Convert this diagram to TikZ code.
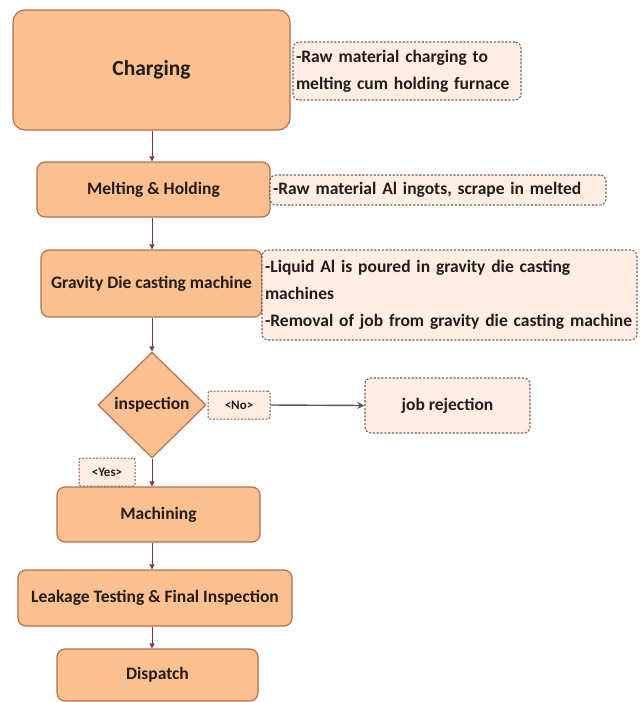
\documentclass[tikz,border=0pt]{standalone}
\usepackage{fontspec}
\setmainfont{Carlito}
\usetikzlibrary{shapes.geometric,arrows.meta}
\definecolor{boxfill}{HTML}{FAC090}
\definecolor{boxdraw}{HTML}{B0714F}
\definecolor{notefill}{HTML}{FDEDE2}
\definecolor{notedraw}{HTML}{75625C}
\definecolor{arrcol}{HTML}{7A3B4E}
\definecolor{txt}{HTML}{241C1C}
\tikzset{
  proc/.style={draw=boxdraw, fill=boxfill, line width=1.2pt, rounded corners=8pt,
    inner sep=2pt, text=txt, font=\bfseries\fontsize{17.5}{20}\selectfont, align=center},
  note/.style={draw=notedraw, fill=notefill, line width=1.1pt, dash pattern=on 2.2pt off 1.6pt,
    rounded corners=6pt, inner sep=3pt, text=txt, font=\bfseries\fontsize{17.5}{27}\selectfont, align=left},
  tag/.style={draw=notedraw, fill=notefill, line width=1pt, dash pattern=on 2pt off 1.5pt,
    rounded corners=2pt, inner sep=1pt, text=txt, font=\bfseries\fontsize{13}{15}\selectfont},
  arr/.style={draw=arrcol, line width=0.8pt, -{Triangle[length=5pt,width=5pt]}},
  garr/.style={draw=black!65, line width=1.4pt, -{Stealth[length=7pt,width=7pt]}},
}
\begin{document}
\begin{tikzpicture}[x=1pt,y=-1pt]
\useasboundingbox (0,0) rectangle (643,702);
\node[proc, rounded corners=12pt, minimum width=277pt, minimum height=120pt,
  font=\bfseries\fontsize{21.5}{26}\selectfont] (charging) at (151.5,70) {Charging};
\node[note, minimum width=228pt, minimum height=58pt, text width=222pt] (note1) at (407,71)
  {-Raw material charging to\\melting cum holding furnace};
\node[proc, minimum width=233pt, minimum height=55pt] (melting) at (153.5,189.5) {Melting \& Holding};
\node[note, minimum width=336pt, minimum height=30pt, text width=330pt] (note2) at (438,190)
  {-Raw material Al ingots, scrape in melted};
\node[proc, minimum width=221pt, minimum height=67pt] (gravity) at (151.5,283.5) {Gravity Die casting machine};
\node[note, minimum width=375pt, minimum height=90pt, text width=369pt] (note3) at (449.5,295)
  {-Liquid Al is poured in gravity die casting\\machines\\-Removal of job from gravity die casting machine};
\node[diamond, draw=boxdraw, fill=boxfill, line width=1.2pt, inner sep=0pt, minimum width=108pt,
  minimum height=106pt, text=txt, font=\bfseries\fontsize{17.5}{20}\selectfont] (insp) at (152,405) {inspection};
\node[tag, minimum width=62pt, minimum height=28pt] (no) at (239,405) {<No>};
\node[note, align=center, minimum width=165pt, minimum height=55pt] (rej) at (447.5,405.5) {job rejection};
\node[tag, minimum width=56pt, minimum height=28pt] (yes) at (107,472) {<Yes>};
\node[proc, minimum width=203pt, minimum height=55pt] (mach) at (158.5,514.5) {Machining};
\node[proc, minimum width=274pt, minimum height=56pt] (leak) at (155,598) {Leakage Testing \& Final Inspection};
\node[proc, minimum width=201pt, minimum height=52pt] (disp) at (157.5,675) {Dispatch};
\draw[arr] (charging.south -| insp.center) -- (melting.north -| insp.center);
\draw[arr] (melting.south -| insp.center) -- (gravity.north -| insp.center);
\draw[arr] (gravity.south -| insp.center) -- (insp.north);
\draw[arr] (insp.south) -- (mach.north -| insp.center);
\draw[arr] (mach.south -| insp.center) -- (leak.north -| insp.center);
\draw[arr] (leak.south -| insp.center) -- (disp.north -| insp.center);
\draw[garr] (no.east) -- (rej.west);
\end{tikzpicture}
\end{document}
